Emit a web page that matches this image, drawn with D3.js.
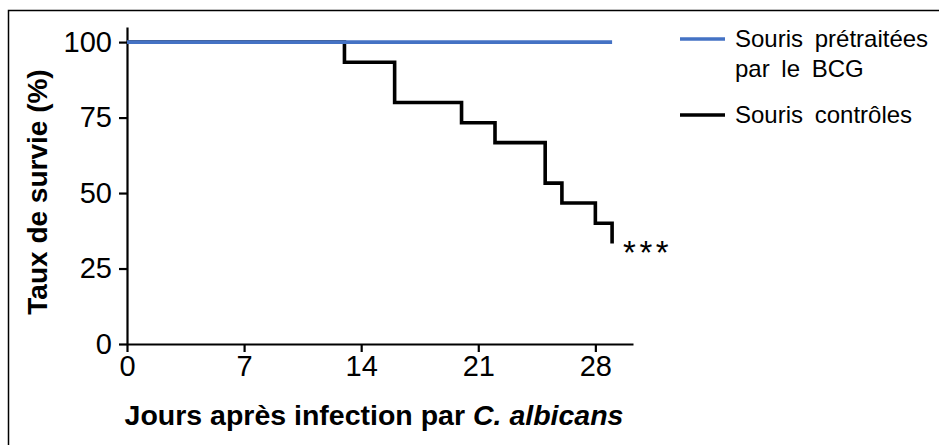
<!DOCTYPE html>
<html><head><meta charset="utf-8">
<script src="https://cdn.jsdelivr.net/npm/d3@7"></script>
<style>html,body{margin:0;padding:0;background:#fff;}svg{display:block;}</style>
</head><body>
<script>
// Data (Kaplan-Meier survival, %)
const bcgDays = [0, 29];
const bcgSurvival = [100, 100];
const controlDays = [0, 13, 16, 20, 22, 25, 26, 28, 29];
const controlSurvival = [100, 93.3, 80, 73.3, 66.7, 53.3, 46.7, 40, 33.3];
const xTicks = [0, 7, 14, 21, 28];
const yTicks = [0, 25, 50, 75, 100];
const legendLabels = [["Souris prétraitées", "par le BCG"], ["Souris contrôles"]];
const seriesColors = ["#4472C4", "#000000"];

const W = 939, H = 445;
const svg = d3.select("body").append("svg").attr("width", W).attr("height", H);
const font = "'Liberation Sans', Arial, sans-serif";

// frame
svg.append("path").attr("d", `M8.5,${H} L8.5,10.5 L${W},10.5`).attr("fill", "none").attr("stroke", "#000").attr("stroke-width", 1.5);

const x = d3.scaleLinear().domain([0, 30.25]).range([127, 633]);
const y = d3.scaleLinear().domain([0, 105]).range([344, 27]);

const yAxis = svg.append("g").attr("transform", "translate(127,0)")
  .call(d3.axisLeft(y).tickValues(yTicks).tickSize(8).tickPadding(7).tickSizeOuter(0));
const xAxis = svg.append("g").attr("transform", "translate(0,344)")
  .call(d3.axisBottom(x).tickValues(xTicks).tickSize(8).tickPadding(3).tickSizeOuter(0));
[xAxis, yAxis].forEach(g => {
  g.select(".domain").attr("stroke", "#000").attr("stroke-width", 2.2);
  g.selectAll(".tick line").attr("stroke", "#000").attr("stroke-width", 2.2);
  g.selectAll(".tick text").attr("fill", "#000").style("font-family", font).style("font-size", "29px");
});

const line = d3.line().x(d => x(d[0])).y(d => y(d[1])).curve(d3.curveStepAfter);
const ctrl = controlDays.map((d, i) => [d, controlSurvival[i]]);
const bcg = bcgDays.map((d, i) => [d, bcgSurvival[i]]);
svg.append("path").datum(ctrl).attr("d", line).attr("fill", "none").attr("stroke", seriesColors[1]).attr("stroke-width", 3.6);
svg.append("path").datum(bcg).attr("d", line).attr("fill", "none").attr("stroke", seriesColors[0]).attr("stroke-width", 3.6);

// significance
svg.append("text").attr("x", x(29) + 11).attr("y", y(33.3) + 21)
  .style("font-family", font).style("font-size", "33px").style("letter-spacing", "3.5px").text("***");

// axis titles
svg.append("text").attr("x", 374).attr("y", 425).attr("text-anchor", "middle")
  .style("font-family", font).style("font-size", "28.5px").style("font-weight", "bold")
  .call(t => { t.append("tspan").text("Jours après infection par "); t.append("tspan").style("font-style", "italic").text("C. albicans"); });
svg.append("text").attr("transform", "translate(47,192) rotate(-90)").attr("text-anchor", "middle")
  .style("font-family", font).style("font-size", "28px").style("font-weight", "bold").text("Taux de survie (%)");

// legend
const legY = [39, 115];
legendLabels.forEach((lines, i) => {
  svg.append("line").attr("x1", 680).attr("x2", 725).attr("y1", legY[i]).attr("y2", legY[i])
    .attr("stroke", seriesColors[i]).attr("stroke-width", 3.6);
  lines.forEach((s, j) => {
    svg.append("text").attr("x", 735).attr("y", legY[i] + 8 + j * 30)
      .style("font-family", font).style("font-size", "24px").style("word-spacing", "5px").text(s);
  });
});
</script>
</body></html>
